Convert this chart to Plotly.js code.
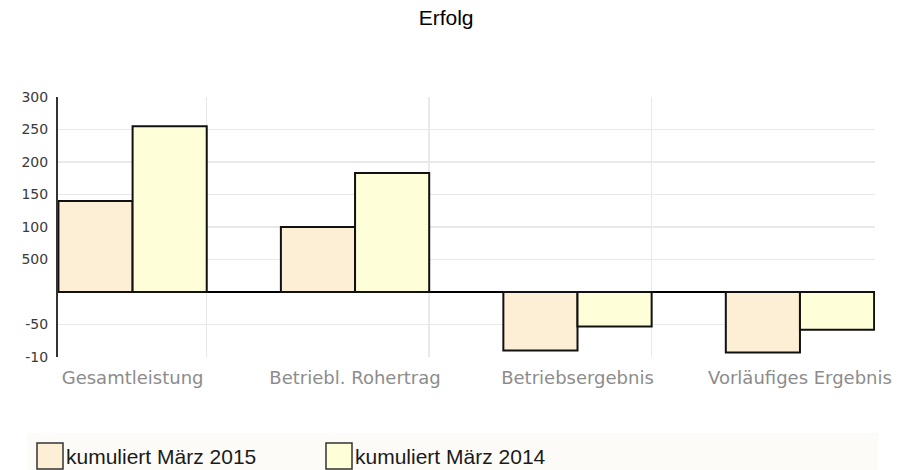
<!DOCTYPE html>
<html>
<head>
<meta charset="utf-8">
<script src="https://cdn.plot.ly/plotly-3.0.1.min.js"></script>
<style>html,body{margin:0;padding:0;background:#fff}#chart{width:903px;height:470px}</style>
</head>
<body>
<div id="chart"></div>
<script>
const categories = ['Gesamtleistung', 'Betriebl. Rohertrag', 'Betriebsergebnis', 'Vorläufiges Ergebnis'];
const seriesNames = ['kumuliert März 2015', 'kumuliert März 2014'];
const values2015 = [140000, 100000, -90000, -93000];
const values2014 = [255000, 183000, -53000, -58000];
const yTickValues = [-100000, -50000, 0, 50000, 100000, 150000, 200000, 250000, 300000];
const yTickLabels = ['-10', '-50', '', '500', '100', '150', '200', '250', '300'];

const colors = ['#fdefd6', '#fefed8'];
const W = 903, H = 470, mL = 58, mR = 28, mT = 97, mB = 113;
const pw = W - mL - mR, ph = H - mT - mB;
const slotPx = 222.7;
const px2x = p => (p - mL) / pw;
const px2y = p => (H - mB - p) / ph;

const idx = categories.map((c, i) => i);
const xA = idx.map(i => i + 0.5);
const xB = idx.map(i => i + 5 / 6);
const xTicks = idx.map(i => i + 2 / 3);
const xBounds = idx.map(i => i + 1);

const traces = [
  {type: 'bar', x: xA, y: values2015, width: 1 / 3, name: seriesNames[0],
   marker: {color: colors[0], line: {color: '#111', width: 2}}, showlegend: false, hoverinfo: 'none'},
  {type: 'bar', x: xB, y: values2014, width: 1 / 3, name: seriesNames[1],
   marker: {color: colors[1], line: {color: '#111', width: 2}}, showlegend: false, hoverinfo: 'none'}
];

const nCat = categories.length;
const legendFont = {family: 'Liberation Sans, Arial, sans-serif', size: 21, color: '#1a1a1a'};
const shapes = [
  {type: 'rect', xref: 'paper', yref: 'paper', x0: px2x(27), x1: px2x(878), y0: px2y(433), y1: px2y(472),
   fillcolor: '#fdfbf7', line: {width: 0}, layer: 'below'},
  {type: 'rect', xref: 'paper', yref: 'paper', x0: px2x(37), x1: px2x(63), y0: px2y(443), y1: px2y(469),
   fillcolor: colors[0], line: {color: '#333', width: 1.5}},
  {type: 'rect', xref: 'paper', yref: 'paper', x0: px2x(326), x1: px2x(352), y0: px2y(443), y1: px2y(469),
   fillcolor: colors[1], line: {color: '#333', width: 1.5}}
];
const annotations = [
  {xref: 'paper', yref: 'paper', x: px2x(64), y: px2y(456), xanchor: 'left', yanchor: 'middle', showarrow: false,
   text: seriesNames[0], font: legendFont},
  {xref: 'paper', yref: 'paper', x: px2x(353), y: px2y(456), xanchor: 'left', yanchor: 'middle', showarrow: false,
   text: seriesNames[1], font: legendFont}
];

const layout = {
  width: W, height: H,
  margin: {l: mL, r: mR, t: mT, b: mB, pad: 0},
  paper_bgcolor: '#fff', plot_bgcolor: '#fff',
  title: {text: 'Erfolg', x: 0.494, xanchor: 'center', y: 1 - 18 / H, yanchor: 'middle',
          font: {family: 'Liberation Sans, Arial, sans-serif', size: 21, color: '#000'}},
  barmode: 'overlay',
  showlegend: false,
  xaxis: {
    range: [nCat - pw / slotPx, nCat + 0.004],
    tickmode: 'array', tickvals: xTicks, ticktext: categories,
    ticks: 'outside', ticklen: 4, tickcolor: 'rgba(0,0,0,0)',
    showgrid: false, zeroline: false, showline: false,
    tickfont: {family: 'DejaVu Sans, sans-serif', size: 18, color: '#8c8c8c'},
    minor: {tickmode: 'array', tickvals: xBounds, showgrid: true, gridcolor: '#e9e9e9', gridwidth: 1.5, ticks: ''},
    fixedrange: true
  },
  yaxis: {
    range: [-100000, 300000],
    tickmode: 'array', tickvals: yTickValues, ticktext: yTickLabels,
    ticks: 'outside', ticklen: 5, tickcolor: 'rgba(0,0,0,0)',
    showgrid: true, gridcolor: '#e9e9e9', gridwidth: 1.5,
    zeroline: true, zerolinecolor: '#000', zerolinewidth: 2,
    showline: true, linecolor: '#333', linewidth: 2,
    tickfont: {family: 'DejaVu Sans, sans-serif', size: 14, color: '#3a3a3a'},
    fixedrange: true
  },
  shapes: shapes,
  annotations: annotations
};

Plotly.newPlot('chart', traces, layout, {displayModeBar: false, staticPlot: true});
</script>
</body>
</html>
